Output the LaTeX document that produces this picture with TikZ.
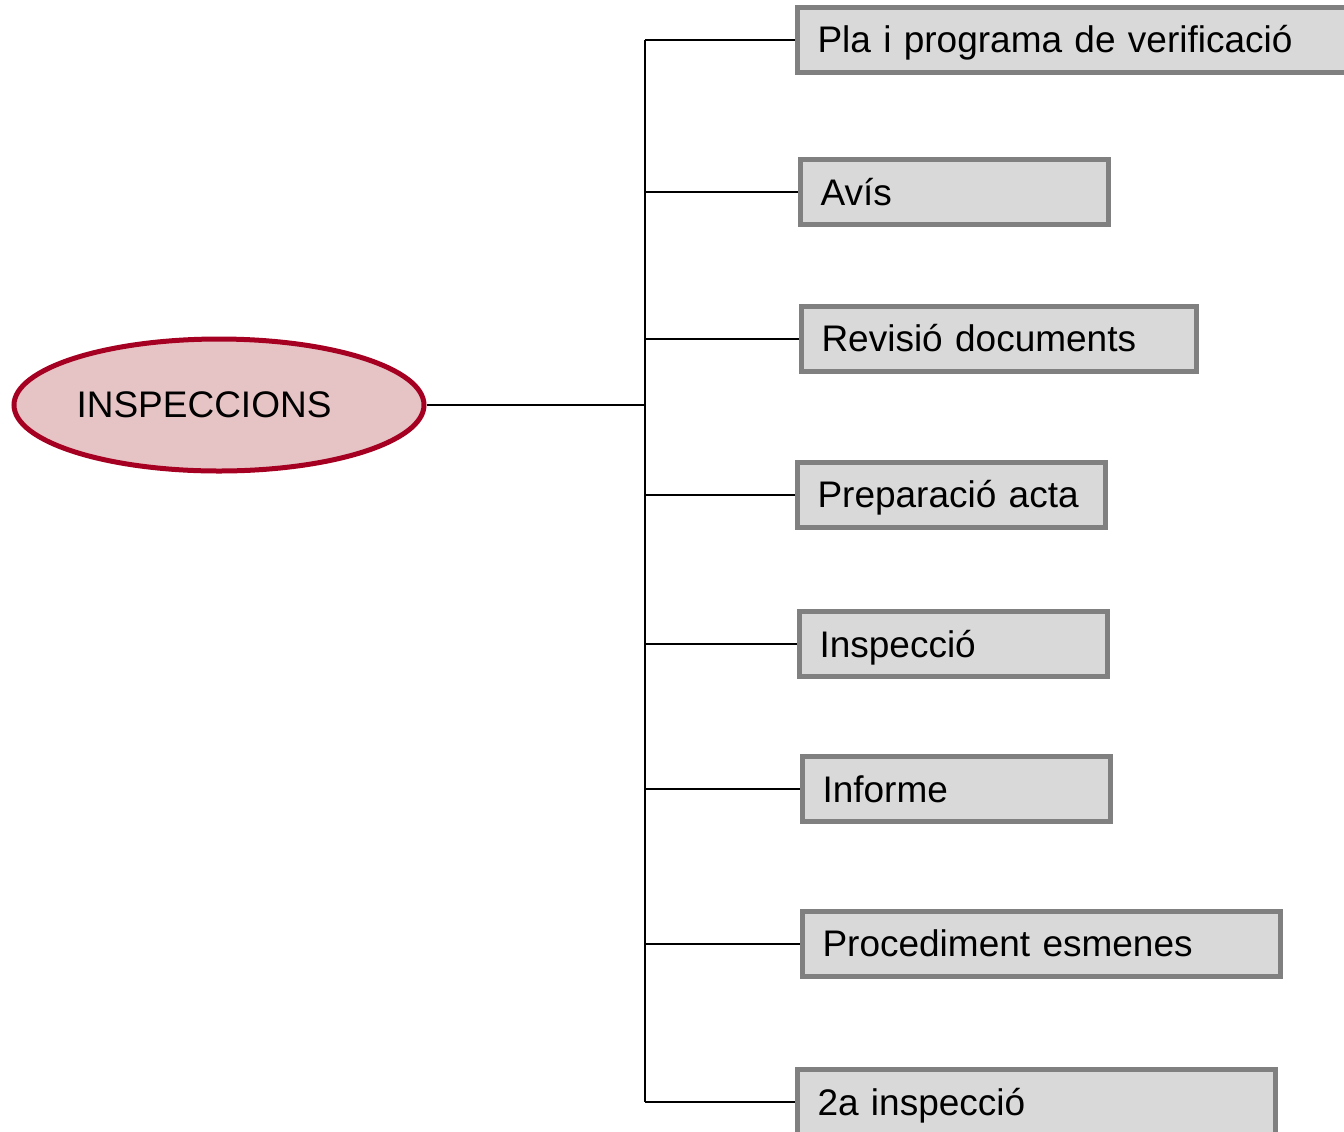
\documentclass[tikz,border=0pt]{standalone}
\usepackage{fontspec}
\setmainfont{Liberation Sans}
\usepackage{tikz}
\usetikzlibrary{shapes.geometric}
\definecolor{boxfill}{HTML}{D9D9D9}
\definecolor{boxline}{HTML}{808080}
\definecolor{ovalfill}{HTML}{E6C3C5}
\definecolor{ovalline}{HTML}{A50021}
\tikzstyle{stage} = [ rectangle, anchor = west, draw = boxline, fill = boxfill, %
                      line width = 2.5pt, inner xsep = 10pt, inner ysep = 2pt, %
                      minimum height = 32.5pt, align = left, %
                      text height = 13.3pt, text depth = 0pt ]
\tikzstyle{oval}  = [ ellipse, draw = ovalline, fill = ovalfill, line width = 2.5pt, %
                      minimum width = 205pt, minimum height = 66pt, inner sep = 0pt ]
\tikzstyle{link}  = [ line width = 1pt, black ]

\begin{document}
\begin{tikzpicture}[x=0.5pt, y=-0.5pt, font=\fontsize{18.5}{22}\selectfont]
      \useasboundingbox (0,0) rectangle (1344,1131);
      \clip (0,0) rectangle (1344,1131);
      % Centre
      \node (insp) [oval, label={[xshift=-7.5pt]center:INSPECCIONS}] at (219,405) {};
      \coordinate (trunk) at (645,405);
      % Boxes
      \node (pla)   [stage, text width=260pt]   at (795,39.5)  {Pla i programa de verificació};
      \node (avis)  [stage, text width=134pt]   at (798,192)   {Avís};
      \node (rev)   [stage, text width=177.5pt] at (799,338.5) {Revisió documents};
      \node (prep)  [stage, text width=134pt]   at (795,494.5) {Preparació acta};
      \node (insc)  [stage, text width=134pt]   at (797,644)   {Inspecció};
      \node (inf)   [stage, text width=134pt]   at (800,789)   {Informe};
      \node (esm)   [stage, text width=219pt]   at (800,943.5) {Procediment esmenes};
      \node (segona)[stage, text width=219pt]   at (795,1102)  {2a inspecció};
      % Lines
      \draw [link] (insp.east) -- (trunk);
      \draw [link] (pla.west -| trunk) -- (segona.west -| trunk);
      \draw [link] (pla.west -| trunk) -- (pla.west);
      \draw [link] (avis.west -| trunk) -- (avis.west);
      \draw [link] (rev.west -| trunk) -- (rev.west);
      \draw [link] (prep.west -| trunk) -- (prep.west);
      \draw [link] (insc.west -| trunk) -- (insc.west);
      \draw [link] (inf.west -| trunk) -- (inf.west);
      \draw [link] (esm.west -| trunk) -- (esm.west);
      \draw [link] (segona.west -| trunk) -- (segona.west);
\end{tikzpicture}
\end{document}
